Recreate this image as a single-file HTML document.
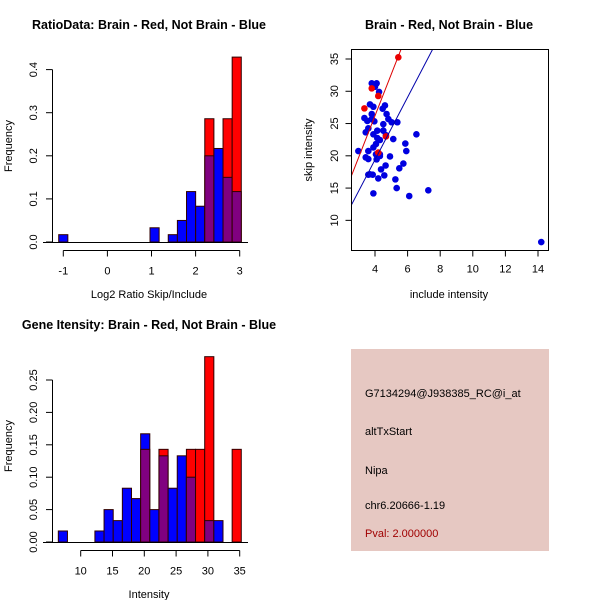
<!DOCTYPE html>
<html><head><meta charset="utf-8"><style>
body{margin:0;background:#fff}
svg{display:block;font-family:"Liberation Sans",Arial,sans-serif}
</style></head><body>
<svg id="c" width="600" height="600" xmlns="http://www.w3.org/2000/svg">
<rect x="0" y="0" width="600" height="600" fill="#fff"/>
<text x="149" y="29" text-anchor="middle" font-weight="bold" font-size="12.5">RatioData: Brain - Red, Not Brain - Blue</text>
<text x="149" y="298" text-anchor="middle" font-size="11">Log2 Ratio Skip/Include</text>
<text transform="translate(12,146) rotate(-90)" text-anchor="middle" font-size="11">Frequency</text>
<text x="449" y="29" text-anchor="middle" font-weight="bold" font-size="12.5">Brain - Red, Not Brain - Blue</text>
<text x="449" y="298" text-anchor="middle" font-size="11">include intensity</text>
<text transform="translate(312,150) rotate(-90)" text-anchor="middle" font-size="11">skip intensity</text>
<text x="149" y="329" text-anchor="middle" font-weight="bold" font-size="12.5">Gene Itensity: Brain - Red, Not Brain - Blue</text>
<text x="149" y="598" text-anchor="middle" font-size="11">Intensity</text>
<text transform="translate(12,446) rotate(-90)" text-anchor="middle" font-size="11">Frequency</text>
<g>
<rect x="351" y="349" width="198" height="202" fill="#e6c8c2"/>
<text x="365" y="397" font-size="11">G7134294@J938385_RC@i_at</text>
<text x="365" y="435" font-size="11">altTxStart</text>
<text x="365" y="474" font-size="11">Nipa</text>
<text x="365" y="509" font-size="11">chr6.20666-1.19</text>
<text x="365" y="537" font-size="11" fill="#a00000">Pval: 2.000000</text>
</g>
</svg>
<script>
// Ratio histogram data
const ratioBinStart = -1.104;
const ratioBinWidth = 0.207;
const ratioBlue = [0.017,0,0,0,0,0,0,0,0,0,0.033,0,0.017,0.05,0.117,0.083,0.2,0.217,0.15,0.117];
const ratioRed  = [0,0,0,0,0,0,0,0,0,0,0,0,0,0,0,0,0.286,0,0.286,0.429];
const ratioXTicks = [-1,0,1,2,3];
const ratioYTicks = [0,0.1,0.2,0.3,0.4];
// Intensity histogram data
const intBinStart = 6.48;
const intBinWidth = 1.4385;
const intBlue = [0.017,0,0,0,0.017,0.05,0.033,0.083,0.067,0.167,0.05,0.133,0.083,0.133,0.1,0,0.033,0.033,0,0];
const intRed  = [0,0,0,0,0,0,0,0,0,0.143,0,0.143,0,0,0.143,0.143,0.286,0,0,0.143];
const intXTicks = [10,15,20,25,30,35];
const intYTicks = [0,0.05,0.1,0.15,0.2,0.25];
const intYLabels = ["0.00","0.05","0.10","0.15","0.20","0.25"];
// Scatter data
const blueX = [2.98,3.35,3.43,3.43,3.59,3.53,3.59,3.59,3.59,3.69,3.69,3.8,3.8,3.8,3.86,3.9,3.9,3.9,3.9,3.96,4,4.06,4.06,4.1,4.1,4.14,4.14,4.2,4.25,4.3,4.3,4.3,4.37,4.47,4.51,4.51,4.57,4.61,4.65,4.67,4.71,4.82,4.92,5.02,5.12,5.25,5.33,5.37,5.49,5.74,5.86,5.92,6.1,6.54,7.27,14.2];
const blueY = [20.74,25.86,23.64,19.76,19.5,25.4,24.26,20.74,17.08,17.13,27.97,31.23,26.48,25.7,17.08,27.6,23.33,21.3,14.18,25.34,30.7,21.83,20.23,31.23,19.45,23.9,22.76,16.5,29.9,22.45,20.23,19.97,17.9,27.3,24.9,23.9,16.97,27.8,18.5,23.2,26.48,25.7,19.9,25.2,22.6,16.35,15.0,25.2,18.06,18.8,21.9,20.74,13.77,23.33,14.65,6.64];
const redX = [3.35,3.8,4.2,5.43,4.67,4.2];
const redY = [27.35,30.45,29.27,35.26,23.0,20.5];
const redFit = [0.45,6.44];   // intercept, slope
const blueFit = [0.03,4.84];
const scXTicks = [4,6,8,10,12,14];
const scYTicks = [10,15,20,25,30,35];

const svg = document.getElementById('c');
const NS = 'http://www.w3.org/2000/svg';
function mk(tag, attrs, parent){const e=document.createElementNS(NS,tag);for(const k in attrs)e.setAttribute(k,attrs[k]);(parent||svg).appendChild(e);return e;}

function hist(cfg){
  const g = mk('g',{});
  
  
  const sx = v => cfg.x0px + (v - cfg.x0) * cfg.kx;
  const sy = v => cfg.ybase - v * cfg.ky;
  cfg.blue.forEach((b,i)=>{
    const r = cfg.red[i];
    const l = sx(cfg.binStart + i*cfg.binWidth), w = cfg.binWidth*cfg.kx;
    const hi = Math.max(b,r), lo = Math.min(b,r);
    if(hi<=0) return;
    const top = mk('rect',{x:l,y:sy(hi),width:w,height:sy(0)-sy(hi),fill:r>b?'#ff0000':'#0000ff',stroke:'#300000','stroke-width':1},g);
    
    
    if(lo>0){
      const p = mk('rect',{x:l,y:sy(lo),width:w,height:sy(0)-sy(lo),fill:'#800080',stroke:'#300000','stroke-width':1},g);
      
      
    }
  });
  mk('line',{x1:43,y1:cfg.ybase+0.5,x2:248,y2:cfg.ybase+0.5,stroke:'#000'},g);
  const yt = cfg.yTicks;
  mk('line',{x1:52.5,y1:sy(yt[0]),x2:52.5,y2:sy(yt[yt.length-1]),stroke:'#000'},g);
  yt.forEach((t,i)=>{
    const y=sy(t);
    mk('line',{x1:46,y1:y,x2:52.5,y2:y,stroke:'#000'},g);
    const tx=mk('text',{transform:`translate(37,${y}) rotate(-90)`,'text-anchor':'middle','font-size':11},g);
    tx.textContent = cfg.yLabels ? cfg.yLabels[i] : t.toFixed(1);
    
    
  });
  const xt = cfg.xTicks;
  const ax = cfg.ybase+8.5;
  mk('line',{x1:sx(xt[0]),y1:ax,x2:sx(xt[xt.length-1]),y2:ax,stroke:'#000'},g);
  xt.forEach(t=>{
    const x=sx(t);
    mk('line',{x1:x,y1:ax,x2:x,y2:ax+6,stroke:'#000'},g);
    const tx=mk('text',{x:x,y:ax+24,'text-anchor':'middle','font-size':11},g);
    tx.textContent = t;
    
    
  });
}
hist({name:'ratio-histogram',binStart:ratioBinStart,binWidth:ratioBinWidth,blue:ratioBlue,red:ratioRed,
  x0:-1,x0px:63.3,kx:44.1,ybase:242,ky:431,yTicks:ratioYTicks,xTicks:ratioXTicks});
hist({name:'intensity-histogram',binStart:intBinStart,binWidth:intBinWidth,blue:intBlue,red:intRed,
  x0:10,x0px:80.7,kx:6.36,ybase:542,ky:648,yTicks:intYTicks,yLabels:intYLabels,xTicks:intXTicks});

(function(){
  const g = mk('g',{});
  
  
  const sx = v => 375 + (v-4)*16.3;
  const sy = v => 59 + (35-v)*6.454;
  const L=351.5,R=548.5,T=49.5,B=250.5;
  const cp = mk('clipPath',{id:'sc'},g);
  mk('rect',{x:L,y:T,width:R-L,height:B-T},cp);
  blueX.forEach((x,i)=>{
    const c=mk('circle',{cx:sx(x),cy:sy(blueY[i]),r:3.3,fill:'#0000e0'},g);
    
    
  });
  redX.forEach((x,i)=>{
    const c=mk('circle',{cx:sx(x),cy:sy(redY[i]),r:3.3,fill:'#ee0000'},g);
    
    
  });
  [[redFit,'#dd0000','red-fit-line'],[blueFit,'#0000aa','blue-fit-line']].forEach(([f,col,n])=>{
    const xa=2, xb=16;
    const l=mk('line',{x1:sx(xa),y1:sy(f[0]+f[1]*xa),x2:sx(xb),y2:sy(f[0]+f[1]*xb),stroke:col,'stroke-width':1,'clip-path':'url(#sc)'},g);
    
    
  });
  mk('rect',{x:L,y:T,width:R-L,height:B-T,fill:'none',stroke:'#000'},g);
  scXTicks.forEach(t=>{
    const x=sx(t);
    mk('line',{x1:x,y1:B,x2:x,y2:B+6,stroke:'#000'},g);
    const tx=mk('text',{x:x,y:B+22,'text-anchor':'middle','font-size':11},g);
    tx.textContent=t;
    
    
  });
  scYTicks.forEach(t=>{
    const y=sy(t);
    mk('line',{x1:L-6,y1:y,x2:L,y2:y,stroke:'#000'},g);
    const tx=mk('text',{transform:`translate(338,${y}) rotate(-90)`,'text-anchor':'middle','font-size':11},g);
    tx.textContent=t;
    
    
  });
})();
</script>
</body></html>
